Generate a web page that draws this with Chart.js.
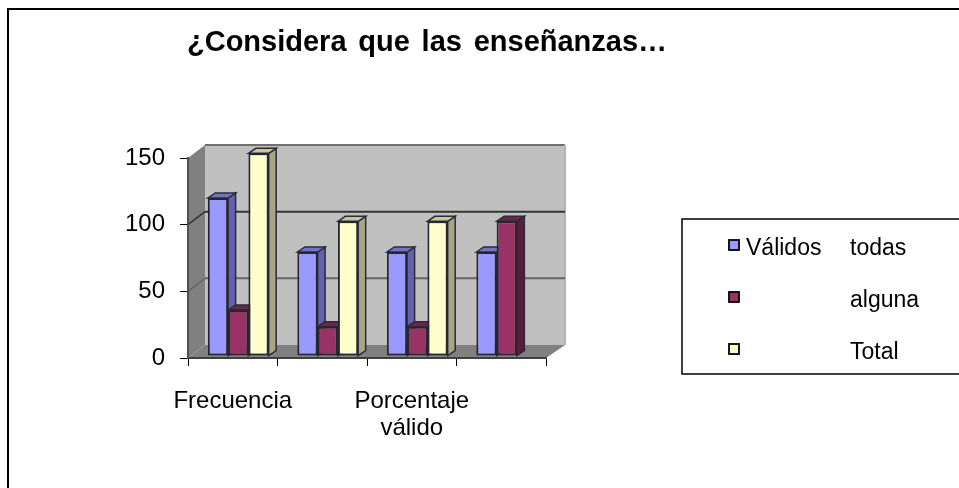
<!DOCTYPE html>
<html>
<head>
<meta charset="utf-8">
<title>¿Considera que las enseñanzas…</title>
<script src="https://cdn.jsdelivr.net/npm/chart.js@4"></script>
<style>
    html, body { margin: 0; padding: 0; background: #fff; overflow: hidden; }
    canvas { display: block; }
</style>
</head>
<body>
<canvas id="chart" width="959" height="488"></canvas>
<script>
// --- DATA ---
const categories = ['Frecuencia', '', ['Porcentaje', 'válido'], ''];
const todas = [118.5, 78, 78, 78];
const alguna = [34.5, 22, 22, 101];
const total = [152, 101, 101, null];
const yTicks = [0, 50, 100, 150];
const titleText = '¿Considera que las enseñanzas…';
const legendLeft = ['Válidos', '', ''];
const legendRight = ['todas', 'alguna', 'Total'];

// --- COLORS ---
const fronts = ['#9999ff', '#993366', '#ffffcc'];
const sides = ['#6262ad', '#5a1c3c', '#a6a686'];
const tops = ['#7474c4', '#6e2549', '#c6c6a2'];
const FONT = '"Liberation Sans", Arial, sans-serif';

// depth of the back wall and of the bars, in pixels
const WALL_DX = 17, WALL_DY = -13;
const BAR_SHIFT_X = 5.5, BAR_SHIFT_Y = -2;
const BAR_DX = 7.5, BAR_DY = -5;

function poly(ctx, pts, fill, stroke, width) {
    ctx.beginPath();
    pts.forEach((p, i) => i ? ctx.lineTo(p[0], p[1]) : ctx.moveTo(p[0], p[1]));
    ctx.closePath();
    if (fill) { ctx.fillStyle = fill; ctx.fill(); }
    if (stroke) { ctx.strokeStyle = stroke; ctx.lineWidth = width || 1; ctx.stroke(); }
}

function line(ctx, x1, y1, x2, y2, color, width) {
    ctx.beginPath();
    ctx.moveTo(x1, y1);
    ctx.lineTo(x2, y2);
    ctx.strokeStyle = color;
    ctx.lineWidth = width;
    ctx.stroke();
}

// frame, title and the 3D box behind the bars
const scenePlugin = {
    id: 'scene',
    beforeDraw(chart) {
        const ctx = chart.ctx;
        const { left, right, top, bottom } = chart.chartArea;
        const y = chart.scales.y;
        ctx.save();
        ctx.fillStyle = '#fff';
        ctx.fillRect(0, 0, chart.width, chart.height);
        line(ctx, 8, 9, chart.width, 9, '#000', 2);
        line(ctx, 8, 8, 8, chart.height, '#000', 2);

        ctx.font = 'bold 29px ' + FONT;
        ctx.wordSpacing = '3.7px';
        ctx.fillStyle = '#000';
        ctx.textAlign = 'left';
        ctx.fillText(titleText, 187, 51);
        ctx.wordSpacing = '0px';

        const bx = left + WALL_DX, bxr = right + WALL_DX + 2;
        const by = top + WALL_DY, byb = bottom + WALL_DY;
        poly(ctx, [[bx, by], [bxr, by], [bxr, byb], [bx, byb]], '#c0c0c0');
        poly(ctx, [[left, top], [bx, by], [bx, byb], [left, bottom]], '#808080');
        poly(ctx, [[left, bottom], [bx, byb], [bxr, byb], [right, bottom]], '#808080');
        line(ctx, bx, by, bxr, by, '#707070', 2);
        line(ctx, bxr, by, bxr, byb, '#b4b4b4', 2);

        [100, 50].forEach((v, i) => {
            const py = y.getPixelForValue(v);
            const color = i === 0 ? '#333' : '#666';
            line(ctx, bx, py + WALL_DY, bxr, py + WALL_DY, color, 2);
            line(ctx, left, py, bx, py + WALL_DY, color, 1.5);
        });
        ctx.restore();
    },
    beforeDatasetsDraw(chart) {
        const ctx = chart.ctx;
        ctx.save();
        ctx.translate(BAR_SHIFT_X, BAR_SHIFT_Y);
        // depth faces first, the library then paints the fronts on top
        chart.data.labels.forEach((_, i) => {
            chart.data.datasets.forEach((ds, d) => {
                if (ds.data[i] == null) return;
                const bar = chart.getDatasetMeta(d).data[i];
                const x1 = bar.x - bar.width / 2, x2 = bar.x + bar.width / 2;
                poly(ctx, [[x2, bar.y], [x2 + BAR_DX, bar.y + BAR_DY], [x2 + BAR_DX, bar.base + BAR_DY], [x2, bar.base]], sides[d], '#2a2a3a', 1.5);
                poly(ctx, [[x1, bar.y], [x1 + BAR_DX, bar.y + BAR_DY], [x2 + BAR_DX, bar.y + BAR_DY], [x2, bar.y]], tops[d], '#2a2a3a', 1.5);
            });
        });
    },
    afterDatasetsDraw(chart) {
        chart.ctx.restore();
    },
    afterDraw(chart) {
        const ctx = chart.ctx;
        ctx.save();
        ctx.strokeStyle = '#000';
        ctx.lineWidth = 1.5;
        ctx.beginPath();
        ctx.moveTo(chart.width, 219);
        ctx.lineTo(682, 219);
        ctx.lineTo(682, 374);
        ctx.lineTo(chart.width, 374);
        ctx.stroke();

        ctx.font = '23px ' + FONT;
        ctx.textAlign = 'left';
        [255, 307, 359].forEach((base, i) => {
            ctx.fillStyle = fronts[i];
            ctx.fillRect(729, base - 15, 10, 10);
            ctx.strokeStyle = '#000';
            ctx.lineWidth = 1.8;
            ctx.strokeRect(729, base - 15, 10, 10);
            ctx.fillStyle = '#000';
            ctx.fillText(legendLeft[i], 746, base);
            ctx.fillText(legendRight[i], 850, base);
        });
        ctx.restore();
    }
};

const makeDataset = (label, data, i) => ({
    label,
    data,
    backgroundColor: fronts[i],
    borderColor: '#26262e',
    borderWidth: 2,
    borderSkipped: false,
    categoryPercentage: 0.68,
    barPercentage: 1,
    clip: false
});

new Chart(document.getElementById('chart').getContext('2d'), {
    type: 'bar',
    data: {
        labels: categories,
        datasets: [
            makeDataset('Válidos todas', todas, 0),
            makeDataset('alguna', alguna, 1),
            makeDataset('Total', total, 2)
        ]
    },
    options: {
        responsive: false,
        animation: false,
        layout: { padding: { top: 158, right: 413, bottom: 0, left: 0 } },
        plugins: { legend: { display: false }, title: { display: false }, tooltip: { enabled: false } },
        scales: {
            x: {
                afterFit: (scale) => { scale.height = 130; },
                border: { color: '#404040', width: 2 },
                grid: { drawOnChartArea: false, drawTicks: true, tickLength: 8, tickColor: '#000', offset: true },
                ticks: {
                    autoSkip: false,
                    maxRotation: 0,
                    padding: 22,
                    color: '#000',
                    font: { family: FONT, size: 24, lineHeight: 1.125 }
                }
            },
            y: {
                min: 0,
                max: 150,
                afterFit: (scale) => { scale.width = 188; },
                afterBuildTicks: (scale) => { scale.ticks = yTicks.map(v => ({ value: v })); },
                border: { color: '#505050', width: 2 },
                grid: { drawOnChartArea: false, drawTicks: true, tickLength: 8, tickColor: '#000' },
                ticks: {
                    padding: 15,
                    color: '#000',
                    font: { family: FONT, size: 24 }
                }
            }
        }
    },
    plugins: [scenePlugin]
});
</script>
</body>
</html>
